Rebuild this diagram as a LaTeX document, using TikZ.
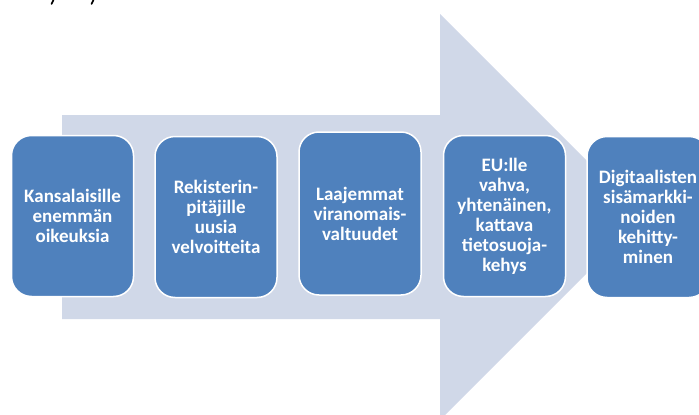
\documentclass[tikz,border=0pt]{standalone}
\usepackage{fontspec}
\setmainfont{Carlito}
\definecolor{arrowfill}{HTML}{D0D8E8}
\definecolor{boxfill}{HTML}{4F81BD}
\tikzset{
  stepbox/.style={draw=white, line width=1.5pt, fill=boxfill, rounded corners=20pt,
    minimum width=122pt, minimum height=161pt, inner sep=0pt, outer sep=0pt,
    text=white, font=\fontsize{19}{20}\selectfont\bfseries, align=center, text width=118pt},
  frag/.style={line width=1.6pt, line cap=round}
}
\begin{document}
\begin{tikzpicture}[x=1pt,y=-1pt]
\useasboundingbox (0,0) rectangle (699,415);
\clip (0,0) rectangle (699,415);
% big arrow
\fill[arrowfill] (62,115) -- (440,115) -- (440,14) -- (643,217) -- (440,420) -- (440,319) -- (62,319) -- cycle;
% cut-off text fragments at top
\draw[frag] (53.5,0) -- (51.5,4);
\draw[frag] (93.5,0) -- (91.5,4);
% boxes
\node[stepbox] (b1) at (72.5,216) {Kansalaisille\\enemmän\\oikeuksia};
\node[stepbox] (b2) at (216,217) {Rekisterin-\\pitäjille\\uusia\\velvoitteita};
\node[stepbox, minimum height=163pt] (b3) at (360,213.5) {Laajemmat\\viranomais-\\valtuudet};
\node[stepbox] (b4) at (504.5,216) {EU:lle\\vahva,\\yhtenäinen,\\kattava\\tietosuoja-\\kehys};
\node[stepbox] (b5) at (648,217) {Digitaalisten\\sisämarkki-\\noiden\\kehitty-\\minen};
\end{tikzpicture}
\end{document}
